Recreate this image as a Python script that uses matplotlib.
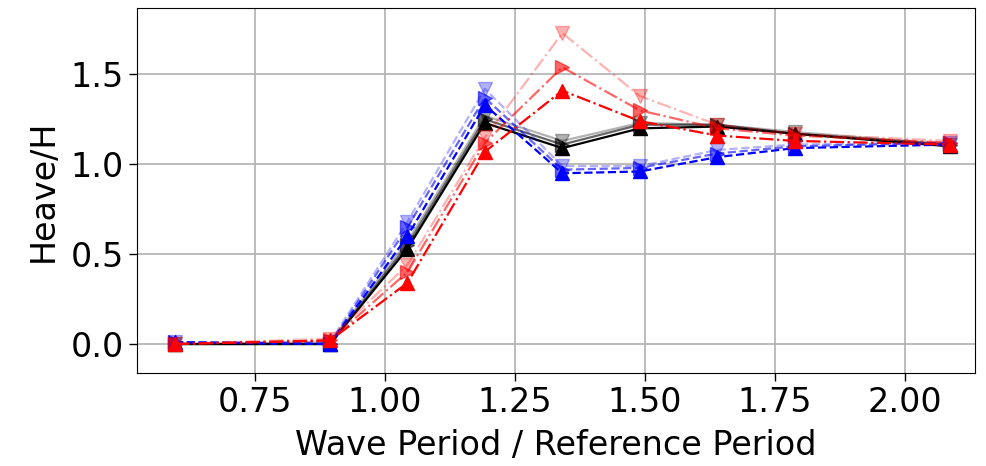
import numpy as np
import matplotlib
matplotlib.use('Agg')
import matplotlib.pyplot as plt

# wave period / reference period
x = [0.596, 0.894, 1.043, 1.192, 1.341, 1.490, 1.639, 1.788, 2.086]

# heave / H for each case
black_1 = [0.00, 0.00, 0.53, 1.23, 1.09, 1.20, 1.21, 1.17, 1.10]
black_2 = [0.00, 0.00, 0.55, 1.25, 1.11, 1.22, 1.22, 1.17, 1.11]
black_3 = [0.00, 0.01, 0.57, 1.27, 1.13, 1.23, 1.22, 1.18, 1.11]

blue_1 = [0.01, 0.00, 0.60, 1.33, 0.95, 0.96, 1.04, 1.09, 1.11]
blue_2 = [0.01, 0.00, 0.65, 1.37, 0.97, 0.98, 1.06, 1.10, 1.12]
blue_3 = [0.01, 0.01, 0.68, 1.42, 0.99, 0.99, 1.08, 1.11, 1.12]

red_1 = [0.00, 0.02, 0.34, 1.07, 1.41, 1.24, 1.16, 1.13, 1.11]
red_2 = [0.00, 0.02, 0.40, 1.12, 1.54, 1.30, 1.20, 1.16, 1.12]
red_3 = [0.00, 0.03, 0.44, 1.15, 1.73, 1.38, 1.22, 1.17, 1.13]

markers = ['^', '>', 'v']
alphas = [1.0, 0.6, 0.3]

fig = plt.figure(figsize=(9.86, 4.66), dpi=100)
ax = fig.add_axes([0.139, 0.200, 0.850, 0.783])

groups = [
    ([black_1, black_2, black_3], 'k', '-'),
    ([blue_1, blue_2, blue_3], 'b', '--'),
    ([red_1, red_2, red_3], 'r', '-.'),
]
for series, c, ls in groups:
    for y, m, a in zip(series, markers, alphas):
        ax.plot(x, y, color=c, linestyle=ls, marker=m, markersize=10,
                alpha=a, linewidth=1.6)

ax.set_xlim(0.523, 2.135)
ax.set_ylim(-0.16, 1.87)
ax.set_xticks([0.75, 1.0, 1.25, 1.5, 1.75, 2.0])
ax.set_yticks([0.0, 0.5, 1.0, 1.5])
ax.tick_params(labelsize=24, width=1.0, length=6)
ax.grid(True, color='#b0b0b0', linewidth=1.2)
ax.set_xlabel('Wave Period / Reference Period', fontsize=24, labelpad=7)
ax.set_ylabel('Heave/H', fontsize=24, labelpad=8)

fig.savefig('out.png', dpi=100)
